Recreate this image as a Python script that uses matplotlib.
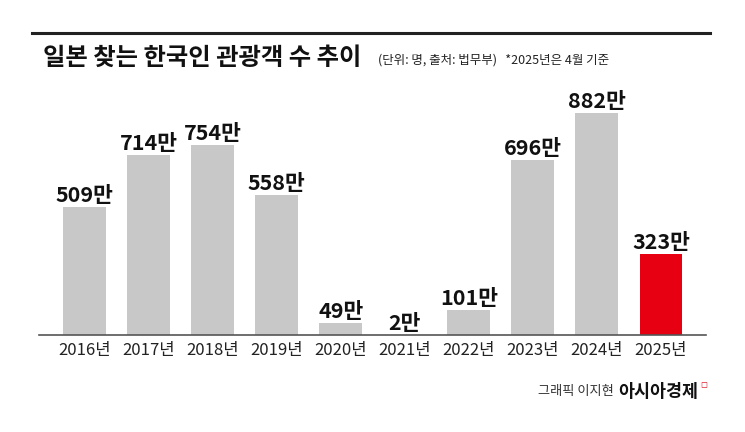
import matplotlib.pyplot as plt
from matplotlib.lines import Line2D

plt.rcParams['font.family'] = ['Noto Sans CJK JP', 'Noto Sans CJK KR', 'Noto Sans CJK SC', 'DejaVu Sans']

years = ['2016년', '2017년', '2018년', '2019년', '2020년', '2021년', '2022년', '2023년', '2024년', '2025년']
visitors = [509, 714, 754, 558, 49, 2, 101, 696, 882, 323]
labels = ['509만', '714만', '754만', '558만', '49만', '2만', '101만', '696만', '882만', '323만']

colors = ['#c8c8c8'] * 9 + ['#e60012']

fig = plt.figure(figsize=(7.45, 4.32), dpi=100)
ax = fig.add_axes([0.053, 0.2245, 0.8945, 0.544])
x = range(len(years))
ax.bar(x, visitors, width=0.67, color=colors)
for i, v in enumerate(visitors):
    ax.text(i, v + 4, labels[i], ha='center', va='bottom', fontsize=15.5,
            fontweight='bold', color='#111111')
ax.set_xlim(-0.7, 9.7)
ax.set_ylim(0, 934)
ax.set_xticks(list(x))
ax.set_xticklabels(years, fontsize=12, color='#222222')
ax.tick_params(axis='x', length=0, pad=5)
ax.set_yticks([])
for s in ['top', 'left', 'right']:
    ax.spines[s].set_visible(False)
ax.spines['bottom'].set_color('#555555')
ax.spines['bottom'].set_linewidth(1.2)

fig.add_artist(Line2D([0.043, 0.953], [1 - 33 / 432] * 2, color='#222222', lw=2.2))
fig.text(0.058, 1 - 58 / 432, '일본 찾는 한국인 관광객 수 추이', fontsize=17.5, fontweight='bold',
         va='center', color='#111111')
fig.text(0.508, 1 - 60 / 432, '(단위: 명, 출처: 법무부)   *2025년은 4월 기준', fontsize=9,
         va='center', color='#222222')
fig.text(0.722, 1 - 392 / 432, '그래픽 이지현', fontsize=9.5, va='center', color='#333333')
fig.text(0.83, 1 - 392 / 432, '아시아경제', fontsize=12.5, fontweight='bold', va='center', color='#111111')
fig.text(0.94, 1 - 385 / 432, '◻', fontsize=6, va='center', color='#e60012')

fig.savefig('out.png', dpi=100, facecolor='white')
